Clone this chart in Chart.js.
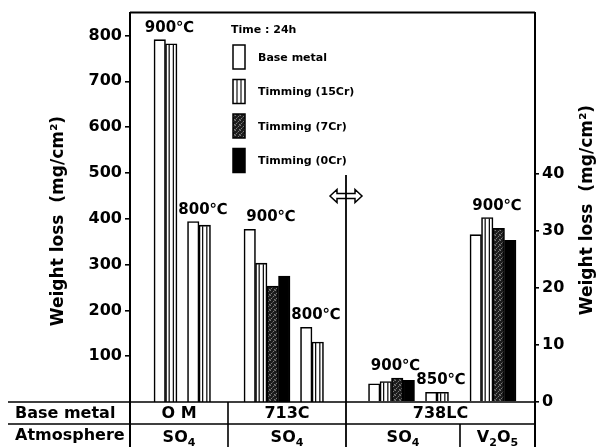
<!DOCTYPE html>
<html><head><meta charset="utf-8">
<script src="https://cdn.jsdelivr.net/npm/chart.js@4/dist/chart.umd.min.js"></script>
<style>html,body{margin:0;padding:0;background:#fff}#wrap{width:611px;height:447px}</style>
</head><body><div id="wrap"><canvas id="c" width="611" height="447"></canvas></div>
<script>
// ---------------- data ----------------
const groupNames = ['O M 900℃', 'O M 800℃', '713C 900℃', '713C 800℃', '738LC 900℃', '738LC 850℃', '738LC V2O5 900℃'];
const tempLabels = ['900℃', '800℃', '900℃', '800℃', '900℃', '850℃', '900℃'];
const groupPos = [3.55, 6.9, 13.7, 18.2, 26.15, 30.7, 36.3];   // position of each group on the x scale
const seriesNames = ['Base metal', 'Timming (15Cr)', 'Timming (7Cr)', 'Timming (0Cr)'];
// left axis (O M, 713C), mg/cm²
const baseLeft  = [791, 394, 377, 163, null, null, null];
const cr15Left  = [782, 386, 303, 131, null, null, null];
const cr7Left   = [null, null, 253, null, null, null, null];
const cr0Left   = [null, null, 275, null, null, null, null];
// right axis (738LC), mg/cm²
const baseRight = [null, null, null, null, 3.2, 1.7, 29.4];
const cr15Right = [null, null, null, null, 3.6, 1.7, 32.4];
const cr7Right  = [null, null, null, null, 4.2, null, 30.5];
const cr0Right  = [null, null, null, null, 3.8, null, 28.4];
const leftTicks = [100, 200, 300, 400, 500, 600, 700, 800];
const rightTicks = [0, 10, 20, 30, 40];
const axisTitle = 'Weight loss  (mg/cm²)';
const legendTitle = 'Time : 24h';
const rowHeaders = ['Base metal', 'Atmosphere'];
const baseMetalNames = ['O M', '713C', '738LC'];
const baseMetalBounds = [0, 9.8, 21.6, 40.5];
const atmosphereNames = ['SO4', 'SO4', 'SO4', 'V2O5'];
const atmosphereBounds = [0, 9.8, 21.6, 33.0, 40.5];
const dividerPos = 21.6;

// ---------------- styles ----------------
const FONT = "'DejaVu Sans', sans-serif";
const ctxMain = document.getElementById('c').getContext('2d');
function makeStipple() {
  const p = document.createElement('canvas'); p.width = 5; p.height = 5;
  const c = p.getContext('2d');
  c.fillStyle = '#1c1c1c'; c.fillRect(0, 0, 5, 5);
  c.fillStyle = '#7a7a7a';
  c.fillRect(0, 0, 1, 1); c.fillRect(3, 1, 1, 1); c.fillRect(1, 3, 1, 1); c.fillRect(4, 4, 1, 1);
  c.fillStyle = '#4a4a4a'; c.fillRect(2, 2, 1, 1); c.fillRect(4, 0, 1, 1); c.fillRect(0, 4, 1, 1);
  return ctxMain.createPattern(p, 'repeat');
}
const stipple = makeStipple();
const fills = ['#ffffff', '#ffffff', stipple, '#000000'];
const stripes = [false, true, false, false];

function mk(i, data, axis) {
  return {
    label: seriesNames[i], data, yAxisID: axis,
    backgroundColor: fills[i], borderColor: '#000', borderWidth: 1.6,
    stripes: stripes[i], seriesIndex: i,
    barThickness: 11.5, skipNull: true
  };
}

function drawSubText(ctx, text, x, y, size) {
  // chemical formula: digits as subscripts, centered at x
  const parts = text.match(/[A-Za-z]+|\d+/g);
  const subSize = Math.round(size * 0.7);
  let w = 0;
  parts.forEach(p => { ctx.font = `bold ${/\d/.test(p) ? subSize : size}px ${FONT}`; w += ctx.measureText(p).width; });
  let cx = x - w / 2;
  ctx.textAlign = 'left';
  parts.forEach(p => {
    const sub = /\d/.test(p);
    ctx.font = `bold ${sub ? subSize : size}px ${FONT}`;
    ctx.fillText(p, cx, y + (sub ? 4 : 0));
    cx += ctx.measureText(p).width;
  });
}

const decor = {
  id: 'decor',
  afterDatasetsDraw(chart) {
    const ctx = chart.ctx;
    const xs = chart.scales.x;
    ctx.save();
    // inner stripes of 15Cr bars
    chart.data.datasets.forEach((ds, di) => {
      if (!ds.stripes) return;
      const meta = chart.getDatasetMeta(di);
      meta.data.forEach((el, i) => {
        if (ds.data[i] == null) return;
        const {x, y, base, width} = el.getProps(['x', 'y', 'base', 'width'], true);
        ctx.strokeStyle = '#000'; ctx.lineWidth = 1.2;
        [-width / 5.5, width / 5.5].forEach(off => {
          ctx.beginPath(); ctx.moveTo(x + off, y + 1); ctx.lineTo(x + off, base); ctx.stroke();
        });
      });
    });
    // temperature labels above groups
    ctx.fillStyle = '#000';
    ctx.textAlign = 'center'; ctx.textBaseline = 'alphabetic';
    ctx.font = `bold 15px ${FONT}`;
    tempLabels.forEach((t, i) => {
      let top = Infinity;
      chart.data.datasets.forEach((ds, di) => {
        if (ds.data[i] == null) return;
        const el = chart.getDatasetMeta(di).data[i];
        top = Math.min(top, el.y);
      });
      ctx.fillText(t, xs.getPixelForValue(groupPos[i]) + 4, top - 8);
    });
    ctx.restore();
  },
  afterDraw(chart) {
    const ctx = chart.ctx;
    const xs = chart.scales.x;
    const a = chart.chartArea;
    const H = chart.height;
    ctx.save();
    ctx.strokeStyle = '#000'; ctx.fillStyle = '#000';
    // frame
    ctx.lineWidth = 2;
    ctx.beginPath();
    ctx.moveTo(a.left, a.top); ctx.lineTo(a.right, a.top);
    ctx.moveTo(a.left, a.top); ctx.lineTo(a.left, H);
    ctx.moveTo(a.right, a.top); ctx.lineTo(a.right, H);
    ctx.stroke();
    // table lines
    const row1 = a.bottom, row2 = a.bottom + 22;
    ctx.lineWidth = 1.6;
    ctx.beginPath();
    ctx.moveTo(8, row1); ctx.lineTo(a.right, row1);
    ctx.moveTo(8, row2); ctx.lineTo(a.right, row2);
    const xb1 = xs.getPixelForValue(baseMetalBounds[1]);
    ctx.moveTo(xb1, row1); ctx.lineTo(xb1, H);
    const xa3 = xs.getPixelForValue(atmosphereBounds[3]);
    ctx.moveTo(xa3, row2); ctx.lineTo(xa3, H);
    ctx.stroke();
    // divider line with double arrow
    const xd = xs.getPixelForValue(dividerPos);
    const ay = 196;
    ctx.beginPath();
    ctx.moveTo(xd - 16, ay); ctx.lineTo(xd - 9, ay - 6.5); ctx.lineTo(xd - 9, ay - 2.5);
    ctx.lineTo(xd + 9, ay - 2.5); ctx.lineTo(xd + 9, ay - 6.5); ctx.lineTo(xd + 16, ay);
    ctx.lineTo(xd + 9, ay + 6.5); ctx.lineTo(xd + 9, ay + 2.5); ctx.lineTo(xd - 9, ay + 2.5);
    ctx.lineTo(xd - 9, ay + 6.5); ctx.closePath();
    ctx.fillStyle = '#fff'; ctx.fill();
    ctx.lineWidth = 1.5; ctx.stroke();
    ctx.lineWidth = 1.8;
    ctx.beginPath(); ctx.moveTo(xd, 175); ctx.lineTo(xd, H); ctx.stroke();
    ctx.fillStyle = '#000';
    // table text
    ctx.textBaseline = 'middle'; ctx.textAlign = 'left';
    ctx.font = `bold 16px ${FONT}`;
    ctx.fillText(rowHeaders[0], 15, row1 + 12);
    ctx.fillText(rowHeaders[1], 15, row2 + 12);
    ctx.textAlign = 'center';
    baseMetalNames.forEach((n, i) => {
      const cx = (xs.getPixelForValue(baseMetalBounds[i]) + xs.getPixelForValue(baseMetalBounds[i + 1])) / 2;
      ctx.font = `bold 16px ${FONT}`;
      ctx.fillText(n, cx, row1 + 12);
    });
    ctx.textBaseline = 'alphabetic';
    atmosphereNames.forEach((n, i) => {
      const cx = (xs.getPixelForValue(atmosphereBounds[i]) + xs.getPixelForValue(atmosphereBounds[i + 1])) / 2;
      drawSubText(ctx, n, cx, row2 + 18, 16);
    });
    // axis titles
    ctx.font = `bold 17px ${FONT}`;
    ctx.textAlign = 'center'; ctx.textBaseline = 'middle';
    ctx.save(); ctx.translate(59, 221); ctx.rotate(-Math.PI / 2); ctx.fillText(axisTitle, 0, 0); ctx.restore();
    ctx.save(); ctx.translate(588, 210); ctx.rotate(-Math.PI / 2); ctx.fillText(axisTitle, 0, 0); ctx.restore();
    // legend
    ctx.textAlign = 'left'; ctx.textBaseline = 'middle';
    ctx.font = `bold 11px ${FONT}`;
    ctx.fillText(legendTitle, 231, 30);
    seriesNames.forEach((n, i) => {
      const cy = 57 + i * 34.5;
      const bx = 233, bw = 12, bh = 24, by = cy - bh / 2;
      ctx.fillStyle = fills[i];
      ctx.fillRect(bx, by, bw, bh);
      ctx.strokeStyle = '#000'; ctx.lineWidth = 1.5;
      ctx.strokeRect(bx, by, bw, bh);
      if (stripes[i]) {
        ctx.lineWidth = 1.1;
        ctx.beginPath();
        ctx.moveTo(bx + 4, by); ctx.lineTo(bx + 4, by + bh);
        ctx.moveTo(bx + 8, by); ctx.lineTo(bx + 8, by + bh);
        ctx.stroke();
      }
      ctx.fillStyle = '#000';
      ctx.fillText(n, 258, cy + 1);
    });
    ctx.restore();
  }
};

new Chart(ctxMain, {
  type: 'bar',
  data: {
    labels: groupPos,
    datasets: [
      mk(0, baseLeft, 'yL'), mk(1, cr15Left, 'yL'), mk(2, cr7Left, 'yL'), mk(3, cr0Left, 'yL'),
      mk(0, baseRight, 'yR'), mk(1, cr15Right, 'yR'), mk(2, cr7Right, 'yR'), mk(3, cr0Right, 'yR')
    ]
  },
  options: {
    responsive: false, animation: false, devicePixelRatio: 1,
    layout: {padding: {top: 12, bottom: 45, left: 0, right: 0}},
    plugins: {legend: {display: false}, tooltip: {enabled: false}, title: {display: false}},
    scales: {
      x: {type: 'linear', display: false, min: 0, max: 40.5, offset: false, grid: {offset: false}},
      yL: {
        position: 'left', min: 0, max: 850,
        afterBuildTicks: s => { s.ticks = leftTicks.map(v => ({value: v})); },
        afterFit: s => { s.width = 130; },
        ticks: {color: '#000', padding: 3, font: {family: FONT, size: 16, weight: 'bold'}},
        grid: {drawOnChartArea: false, drawTicks: true, tickLength: 5, color: '#000', lineWidth: 1.6},
        border: {display: true, color: '#000', width: 2}
      },
      yR: {
        position: 'right', min: 0, max: 68.4,
        afterBuildTicks: s => { s.ticks = rightTicks.map(v => ({value: v})); },
        afterFit: s => { s.width = 76; },
        ticks: {color: '#000', padding: 3, font: {family: FONT, size: 16, weight: 'bold'}},
        grid: {drawOnChartArea: false, drawTicks: true, tickLength: 4, color: '#000', lineWidth: 1.6},
        border: {display: true, color: '#000', width: 2}
      }
    }
  },
  plugins: [decor]
});
</script>
</body></html>
